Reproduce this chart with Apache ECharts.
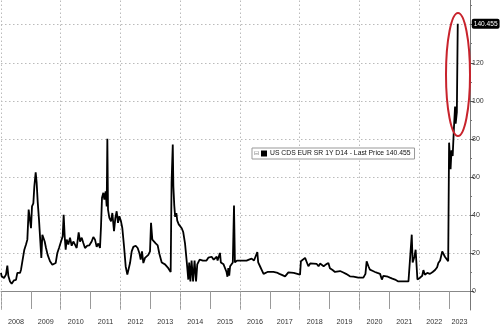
<!DOCTYPE html>
<html>
<head>
<meta charset="utf-8">
<script src="https://cdn.jsdelivr.net/npm/echarts@6/dist/echarts.min.js"></script>
<style>
html,body{margin:0;padding:0;background:#fff;}
#c{width:500px;height:328px;}
</style>
</head>
<body>
<div id="c"></div>
<script>
// ---- data (fractional year, CDS spread in bp) ----
const years = [
2008.000,2008.022,2008.100,2008.167,2008.212,2008.245,2008.301,2008.357,2008.435,2008.502,2008.547,2008.636,2008.670,2008.725,2008.781,2008.837,2008.882,2008.926,2008.971,
2009.004,2009.038,2009.082,2009.116,2009.161,2009.194,2009.228,2009.272,2009.306,2009.350,2009.384,2009.428,2009.462,2009.507,2009.562,2009.640,2009.719,2009.785,2009.830,2009.886,2009.942,
2010.009,2010.065,2010.098,2010.132,2010.165,2010.199,2010.254,2010.310,2010.366,2010.422,2010.477,2010.533,2010.600,2010.645,2010.701,2010.756,2010.812,2010.890,2010.957,
2011.035,2011.091,2011.147,2011.203,2011.258,2011.314,2011.348,2011.381,2011.426,2011.459,2011.504,2011.538,2011.560,2011.582,2011.627,2011.683,2011.727,2011.783,2011.828,2011.872,2011.917,2011.961,
2012.017,2012.062,2012.118,2012.174,2012.229,2012.274,2012.319,2012.375,2012.430,2012.509,2012.575,2012.631,2012.676,2012.720,2012.765,2012.821,2012.877,2012.932,2012.988,
2013.022,2013.066,2013.122,2013.178,2013.245,2013.301,2013.38,2013.44,2013.49,2013.55,2013.60,2013.68,2013.71,2013.75,2013.77,2013.80,2013.83,2013.87,2013.90,2013.95,2013.99,
2014.05,2014.10,2014.16,2014.22,2014.27,2014.30,2014.34,2014.38,2014.43,2014.48,2014.53,2014.57,2014.61,2014.65,2014.70,2014.76,2014.82,2014.88,2014.94,
2015.00,2015.05,2015.08,2015.12,2015.16,2015.22,2015.25,2015.30,2015.33,2015.36,2015.39,2015.45,2015.50,2015.55,2015.58,2015.61,2015.64,2015.67,2015.72,2015.76,2015.80,2015.83,2015.90,
2016.00,2016.06,2016.11,2016.17,2016.22,2016.30,2016.39,2016.47,2016.53,2016.58,2016.61,2016.67,2016.73,2016.79,2016.84,2016.92,
2017.12,2017.23,2017.32,2017.40,2017.51,2017.62,2017.80,2018.01,2018.04,2018.10,2018.18,2018.24,2018.29,2018.35,2018.46,2018.52,2018.57,2018.63,2018.68,2018.74,2018.80,2018.88,2018.96,
2019.01,2019.10,2019.18,2019.24,2019.35,2019.46,2019.55,2019.68,2019.80,2019.96,
2020.13,2020.20,2020.24,2020.30,2020.35,2020.45,2020.52,2020.60,2020.69,2020.75,2020.80,2020.86,2020.95,
2021.02,2021.10,2021.19,2021.30,2021.45,2021.64,2021.69,2021.75,2021.78,2021.84,2021.88,2021.94,
2022.03,2022.10,2022.14,2022.19,2022.27,2022.36,2022.45,2022.53,2022.60,2022.64,2022.70,2022.77,2022.86,2022.92,2022.97,
2023.00,2023.05,2023.08,2023.12,2023.16,2023.20,2023.22,2023.26,2023.28,2023.29
];
const values = [
9.5,7.7,6.8,8.6,13.3,8,5,3.8,5.6,5.8,9.5,9.5,11.2,16.5,21.7,24.4,27,42.8,42.8,
33,44.5,46,55,62.4,56.8,47,37.5,28.7,17.4,29.6,30.6,26,22.6,19,15.6,13.8,13.3,14.7,20,22.6,
26,28.7,40,28.7,21.7,27,24.4,28,23.8,26,24.4,22.6,30.8,26,28,25.2,22.6,23.8,24,
26,28.4,27,23.2,25,22.6,34,49,51.6,48,52.4,44.5,80,42.8,38.4,36.6,41,31.4,38.4,41.9,35.8,39.3,
36.6,33,23.5,12.9,8.6,9.5,14.7,20.8,23.2,23.8,22.6,20,16.5,20.8,14.7,17.4,16.5,19,20.8,
35.8,27,26,25,24,19.6,15,14.5,14,13,12,10,57,77,55,45,39,41,37,35,34,
33,31,25,15,6,15,5,16,5,16,5,14,15,16.5,15.5,16,17,16,17.5,
16.5,18,17,16.5,17,18,16,17,20,15,15,14,13,10,7.5,12,8,13,14,15,45,15,16,
16,17,16,17,16,16.5,17,16,17,20.5,15,13,11,9,8.5,10,
10,9.7,9,8.5,7.7,9.8,9.5,8.6,15.6,16,17.4,15,13,14.5,14.4,13.5,14.2,13,14.4,13.5,13,14,14.7,
12,11,10,10,10.5,9.7,9,7.7,7.5,7,
7,9,15.6,13,11.2,10.5,10,9.5,9,6,8,9,7.5,
7,6.5,6,5,5,5,6,29.6,15,18,21.7,6,
7,8,11,8.5,9.5,9,10,11,12.5,14.7,16,20.8,18,17,15.6,
78,64,74,71,85,97,88,94,95,140.455
];
const seriesName = 'US CDS EUR SR 1Y D14 - Last Price 140.455';
const lastPriceLabel = '140.455';
const yTickValues = [0,20,40,60,80,100,120,140];
const yLabelValues = [0,20,40,60,80,100,120];
const yMinorTickValues = [10,30,50,70,90,110,130,150];
const xGridValues = [2008,2010,2012,2014,2016,2018,2020,2022];
const xYearTicks = [2008,2009,2010,2011,2012,2013,2014,2015,2016,2017,2018,2019,2020,2021,2022,2023];
const xYearLabelPos = [2008.5,2009.5,2010.5,2011.5,2012.5,2013.5,2014.5,2015.5,2016.5,2017.5,2018.5,2019.5,2020.5,2021.5,2022.5,2023.35];

const X_MIN = 2008, X_MAX = 2023.70, Y_MIN = -10, Y_MAX = 153;
const FONT = "'Liberation Sans',Arial,sans-serif";
const GRID_STYLE = {color: '#bbb', type: [1.5, 2.5], width: 1};

const data = years.map((y, i) => [y, values[i]]);
const chart = echarts.init(document.getElementById('c'), null, {renderer: 'canvas'});

chart.setOption({
  animation: false,
  backgroundColor: '#fff',
  grid: {left: 1, right: 30, top: 0, bottom: 18, containLabel: false},
  xAxis: [
    {
      type: 'value', min: X_MIN, max: X_MAX, position: 'bottom',
      axisLine: {show: true, lineStyle: {color: '#888', width: 1}},
      axisTick: {show: false},
      axisLabel: {show: false},
      splitLine: {show: false}
    },
    {
      type: 'value', min: X_MIN, max: X_MAX, position: 'bottom',
      axisLine: {show: false},
      axisTick: {show: true, customValues: xYearTicks, length: 18, lineStyle: {color: '#999', width: 1}},
      axisLabel: {show: true, customValues: xYearLabelPos, margin: 9, fontSize: 7.2, color: '#333', fontFamily: FONT,
        formatter: v => String(Math.floor(v))},
      splitLine: {show: false}
    }
  ],
  yAxis: [
    {
      type: 'value', min: Y_MIN, max: Y_MAX, position: 'right',
      axisLine: {show: true, lineStyle: {color: '#777', width: 1}},
      axisTick: {show: true, customValues: yTickValues, length: 4, lineStyle: {color: '#555'}},
      axisLabel: {show: true, customValues: yLabelValues, margin: 2, fontSize: 7, color: '#333', fontFamily: FONT},
      splitLine: {show: true, lineStyle: GRID_STYLE}
    },
    {
      type: 'value', min: Y_MIN, max: Y_MAX, position: 'right', offset: 0,
      axisLine: {show: false},
      axisTick: {show: true, customValues: yMinorTickValues, length: 2, lineStyle: {color: '#777'}},
      axisLabel: {show: false},
      splitLine: {show: false}
    }
  ],
  legend: {
    left: 252, top: 148, orient: 'horizontal',
    padding: [2, 4, 2, 9],
    borderColor: '#999', borderWidth: 1, backgroundColor: '#fff',
    itemWidth: 6, itemHeight: 6, itemGap: 4,
    icon: 'rect',
    textStyle: {fontSize: 6.8, color: '#111', fontFamily: FONT, padding: [0, 0, 0, -2]},
    data: [{name: seriesName, itemStyle: {color: '#000'}}]
  },
  series: [{
    name: seriesName,
    type: 'line',
    xAxisIndex: 0, yAxisIndex: 0,
    data: data,
    showSymbol: false,
    symbol: 'none',
    lineStyle: {color: '#000', width: 1.8},
    itemStyle: {color: '#000'},
    z: 3,
    endLabel: {
      show: true, distance: 14,
      formatter: () => lastPriceLabel,
      color: '#fff', backgroundColor: '#000', borderRadius: 2,
      padding: [2, 2, 1, 2], fontSize: 6.6, fontFamily: FONT
    },
    markLine: {
      silent: true, symbol: 'none', animation: false, z: 1,
      label: {show: false},
      lineStyle: GRID_STYLE,
      emphasis: {disabled: true},
      data: xGridValues.map(v => ({xAxis: v}))
    }
  }],
  graphic: [
    {type: 'text', left: 254, top: 150, style: {text: '\u229F', fontSize: 6, fill: '#777'}, z: 100},
    {type: 'ellipse', shape: {cx: 458, cy: 74.5, rx: 12, ry: 61.5},
     style: {fill: 'none', stroke: '#c8232c', lineWidth: 2}, z: 100}
  ]
});
</script>
</body>
</html>
